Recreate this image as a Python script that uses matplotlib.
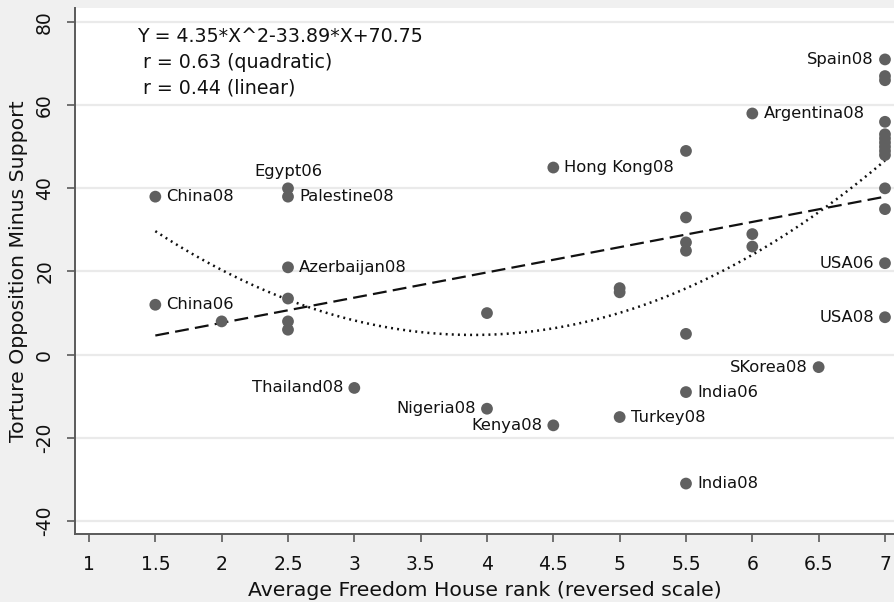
import matplotlib
matplotlib.use("Agg")
import matplotlib.pyplot as plt
import numpy as np

# ------------------------------------------------------------------
# Data
# ------------------------------------------------------------------
freedom = [1.5, 1.5, 2.0, 2.5, 2.5, 2.5, 2.5, 2.5, 2.5, 3.0,
           4.0, 4.0, 4.5, 4.5, 5.0, 5.0, 5.0,
           5.5, 5.5, 5.5, 5.5, 5.5, 5.5, 5.5,
           6.0, 6.0, 6.0, 6.5,
           7.0, 7.0, 7.0, 7.0, 7.0, 7.0, 7.0, 7.0, 7.0, 7.0, 7.0, 7.0, 7.0, 7.0]
opposition = [38, 12, 8, 40, 38, 21, 13.5, 8, 6, -8,
              10, -13, 45, -17, 16, 15, -15,
              49, 33, 27, 25, 5, -9, -31,
              58, 29, 26, -3,
              71, 67, 66, 56, 53, 52, 51, 50, 49, 48, 40, 35, 22, 9]
names = ["China08", "China06", "", "Egypt06", "Palestine08", "Azerbaijan08", "", "", "", "Thailand08",
         "", "Nigeria08", "Hong Kong08", "Kenya08", "", "", "Turkey08",
         "", "", "", "", "", "India06", "India08",
         "Argentina08", "", "", "SKorea08",
         "Spain08", "", "", "", "", "", "", "", "", "", "", "", "USA06", "USA08"]
# where each label sits relative to its marker: r = right, l = left, t = above
label_side = ["r", "r", "", "t", "r", "r", "", "", "", "l",
              "", "l", "r", "l", "", "", "r",
              "", "", "", "", "", "r", "r",
              "r", "", "", "l",
              "l", "", "", "", "", "", "", "", "", "", "", "", "l", "l"]

quad_coef = [4.35, -33.89, 70.75]   # from the fitted equation shown on the chart
lin_coef = [6.07, -4.5]              # estimated from the dashed line
fit_range = [1.5, 7.0]

x_ticks = [1, 1.5, 2, 2.5, 3, 3.5, 4, 4.5, 5, 5.5, 6, 6.5, 7]
x_tick_labels = ["1", "1.5", "2", "2.5", "3", "3.5", "4", "4.5", "5", "5.5", "6", "6.5", "7"]
y_ticks = [-40, -20, 0, 20, 40, 60, 80]

annotation_lines = ["Y = 4.35*X^2-33.89*X+70.75", " r = 0.63 (quadratic)", " r = 0.44 (linear)"]

# ------------------------------------------------------------------
# Figure
# ------------------------------------------------------------------
plt.rcParams['font.family'] = ['DejaVu Sans']
plt.rcParams['lines.scale_dashes'] = False
plt.rcParams['axes.unicode_minus'] = False

W, H = 894, 602
fig = plt.figure(figsize=(W / 100, H / 100), dpi=100, facecolor='#f0f0f0')
ax = fig.add_axes([75 / W, (H - 534) / H, (W - 75) / W, (534 - 8) / H])
ax.set_facecolor('white')

ax.set_xlim(0.8945, 7.068)
ax.set_ylim(-43.13, 83.37)

# grid (horizontal only)
ax.set_yticks(y_ticks)
ax.set_xticks(x_ticks)
ax.set_xticklabels(x_tick_labels)
ax.yaxis.grid(True, color='#eaeaea', linewidth=1.6)
ax.set_axisbelow(True)

for side in ['top', 'right']:
    ax.spines[side].set_visible(False)
for side in ['left', 'bottom']:
    ax.spines[side].set_color('#5a5a5a')
    ax.spines[side].set_linewidth(1.4)

ax.tick_params(axis='both', direction='out', length=6, width=1.2, color='#5a5a5a',
               labelsize=13.5, labelcolor='#111111')
ax.tick_params(axis='x', pad=9)
ax.tick_params(axis='y', pad=9)
for lbl in ax.get_yticklabels():
    lbl.set_rotation(90)
    lbl.set_va('center')

ax.set_xlabel("Average Freedom House rank (reversed scale)", fontsize=14.7, color='#111111', labelpad=5)
ax.set_ylabel("Torture Opposition Minus Support", fontsize=14.7, color='#111111', labelpad=5)

# fitted curves
xs = np.linspace(fit_range[0], fit_range[1], 300)
ax.plot(xs, np.polyval(quad_coef, xs), color='#111111', lw=1.8, linestyle=(0, (1.4, 3.0)), zorder=2)
ax.plot(xs, np.polyval(lin_coef, xs), color='#111111', lw=1.6, linestyle=(0, (10, 4.5)), zorder=2)

# points
ax.scatter(freedom, opposition, s=72, color='#606060', edgecolors='none', zorder=3)

# point labels
offsets = {"r": ((8, 0), "left"), "l": ((-8, 0), "right"), "t": ((0, 12), "center")}
for xv, yv, name, side in zip(freedom, opposition, names, label_side):
    if not name:
        continue
    off, ha = offsets[side]
    ax.annotate(name, (xv, yv), xytext=off, textcoords='offset points',
                ha=ha, va='center', fontsize=11.8, color='#111111', zorder=4)

# equation text in the upper left
for i, line in enumerate(annotation_lines):
    ax.text(1.36, 76.6 - i * 6.25, line, fontsize=13.7, color='#111111',
            ha='left', va='center')

fig.savefig("out.png", dpi=100, facecolor=fig.get_facecolor())
